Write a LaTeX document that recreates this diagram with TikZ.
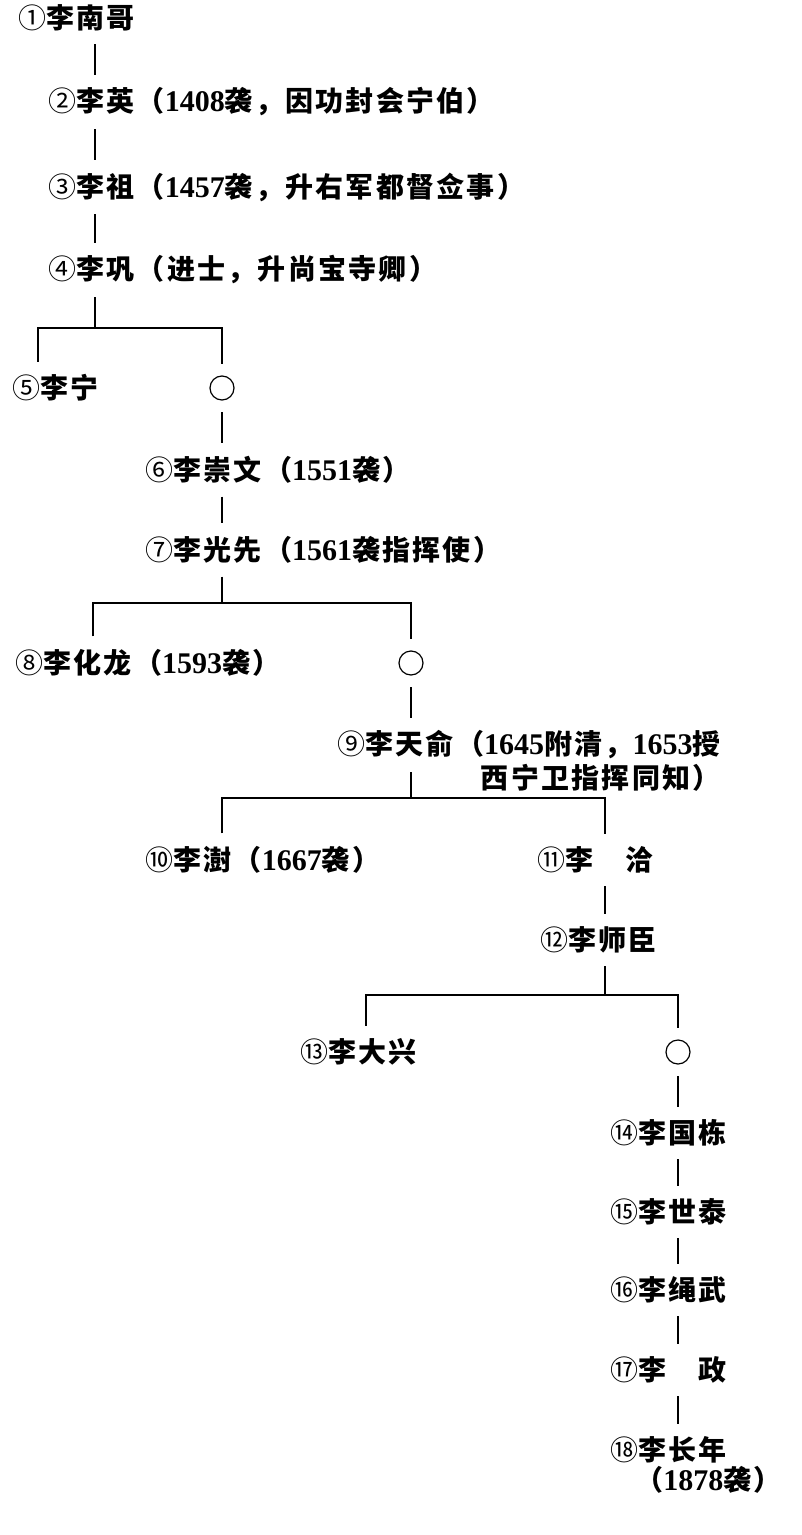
\documentclass[tikz,border=0pt]{standalone}
\usepackage{fontspec}
\setmainfont{Liberation Serif}
\newfontfamily\cjk[LetterSpace=8]{Noto Sans CJK SC}
\usetikzlibrary{positioning}
\newcommand{\yr}[1]{{\rmfamily\bfseries\fontsize{15}{16}\selectfont #1}}
\newcommand{\ci}[1]{{\mdseries #1}}
\tikzset{
  mem/.style={anchor=west, inner sep=0pt, outer ysep=6.5pt, font=\cjk\bfseries\fontsize{14}{16}\selectfont},
  unk/.style={circle, draw, minimum size=12pt, inner sep=0pt, outer sep=6pt, line width=0.6pt},
  lnk/.style={line width=0.8pt}
}
\begin{document}
\begin{tikzpicture}[x=0.5pt,y=-0.5pt]
\useasboundingbox (0,0) rectangle (802,1535);
\coordinate (k1) at (95,0);
\coordinate (k4) at (605,0);
\coordinate (b1) at (95,328);
\coordinate (b2) at (222,603);
\coordinate (b3) at (411,798);
\coordinate (b4) at (605,995);
\node[mem] (p1) at (18,18) {\ci{①}李南哥};
\node[mem] (p2) at (48,102) {\ci{②}李英（\yr{1408}袭，因功封会宁伯）};
\node[mem] (p3) at (48,187) {\ci{③}李祖（\yr{1457}袭，升右军都督佥事）};
\node[mem] (p4) at (48,270) {\ci{④}李巩（进士，升尚宝寺卿）};
\node[mem] (p5) at (12,388) {\ci{⑤}李宁};
\node[unk] (c1) at (222,388) {};
\node[mem] (p6) at (145,470) {\ci{⑥}李崇文（\yr{1551}袭）};
\node[mem] (p7) at (145,550) {\ci{⑦}李光先（\yr{1561}袭指挥使）};
\node[mem] (p8) at (15,663) {\ci{⑧}李化龙（\yr{1593}袭）};
\node[unk] (c2) at (411,663) {};
\node[mem] (p9) at (337,745) {\ci{⑨}李天俞（\yr{1645}附清，\yr{1653}授};
\node[mem,anchor=east] (p9x) at (p9.east |- 0,778) {西宁卫指挥同知）};
\node[mem] (p10) at (145,860) {\ci{⑩}李澍（\yr{1667}袭）};
\node[mem] (p11) at (537,860) {\ci{⑪}李　洽};
\node[mem] (p12) at (540,940) {\ci{⑫}李师臣};
\node[mem] (p13) at (300,1052) {\ci{⑬}李大兴};
\node[unk] (c3) at (678,1052) {};
\node[mem] (p14) at (610,1133) {\ci{⑭}李国栋};
\node[mem] (p15) at (610,1212) {\ci{⑮}李世泰};
\node[mem] (p16) at (610,1290) {\ci{⑯}李绳武};
\node[mem] (p17) at (610,1370) {\ci{⑰}李　政};
\node[mem] (p18) at (610,1450) {\ci{⑱}李长年};
\node[mem] (p18x) at (635,1480) {（\yr{1878}袭）};
\begin{scope}[lnk]
\draw (p1.south -| k1) -- (p2.north -| k1);
\draw (p2.south -| k1) -- (p3.north -| k1);
\draw (p3.south -| k1) -- (p4.north -| k1);
\draw (p4.south -| k1) -- (b1);
\draw (p5.north -| 38,0) |- (b1) -| (c1.north);
\draw (c1.south) -- (p6.north -| c1);
\draw (p6.south -| c1) -- (p7.north -| c1);
\draw (p7.south -| c1) -- (b2);
\draw (p8.north -| 93,0) |- (b2) -| (c2.north);
\draw (c2.south) -- (p9.north -| c2);
\draw (p9.south -| c2) -- (b3);
\draw (p10.north -| c1) |- (b3) -| (p11.north -| k4);
\draw (p11.south -| k4) -- (p12.north -| k4);
\draw (p12.south -| k4) -- (b4);
\draw (p13.north -| 366,0) |- (b4) -| (c3.north);
\draw (c3.south) -- (p14.north -| c3);
\draw (p14.south -| c3) -- (p15.north -| c3);
\draw (p15.south -| c3) -- (p16.north -| c3);
\draw (p16.south -| c3) -- (p17.north -| c3);
\draw (p17.south -| c3) -- (p18.north -| c3);
\end{scope}
\end{tikzpicture}
\end{document}
